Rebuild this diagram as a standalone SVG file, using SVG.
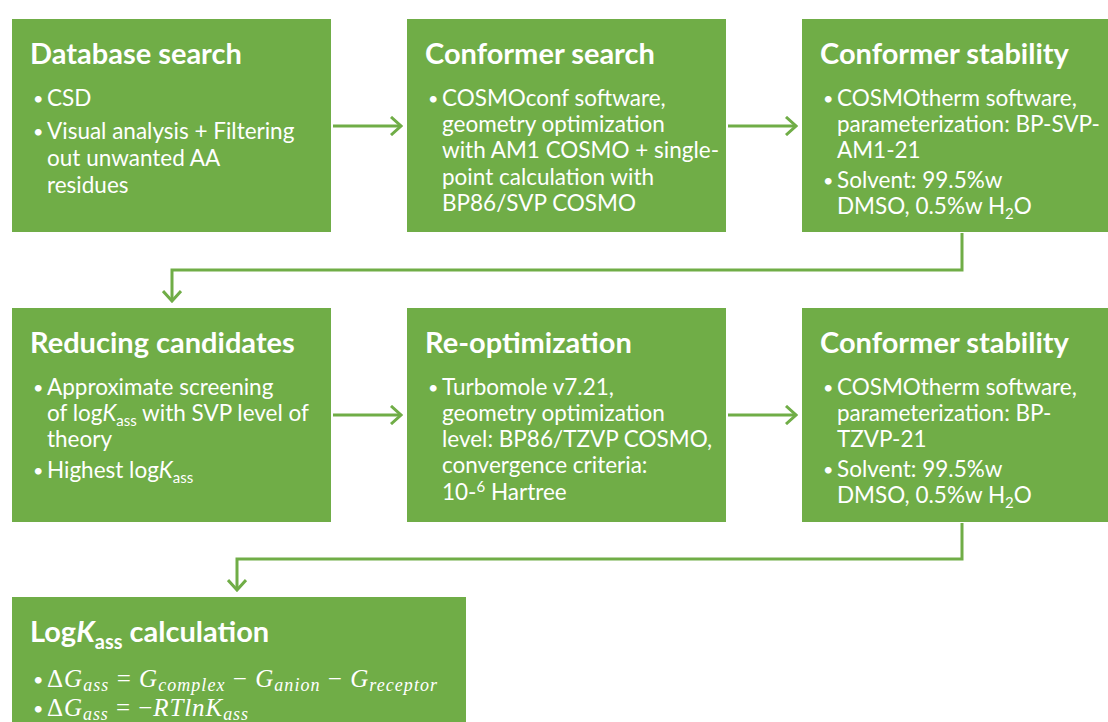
<svg xmlns="http://www.w3.org/2000/svg" width="1108" height="722" viewBox="0 0 1108 722">
<style>
.box{fill:#70AD47;}
.t{font-family:Lato,"Open Sans",sans-serif;font-weight:bold;font-size:29px;fill:#fff;}
.b{font-family:Lato,"Open Sans",sans-serif;font-size:22.5px;fill:#fff;}
.d{font-family:Lato,"Open Sans",sans-serif;font-size:18px;fill:#fff;}
.m{font-family:"Liberation Serif",serif;font-size:25px;fill:#fff;}
.c{fill:none;stroke:#70AD47;stroke-width:3;}
</style>
<defs>
<marker id="ah" viewBox="0 0 14 20" refX="12" refY="10" markerWidth="14" markerHeight="20" markerUnits="userSpaceOnUse" orient="auto">
<path d="M2,1 L12,10 L2,19" fill="none" stroke="#70AD47" stroke-width="3"/>
</marker>
</defs>
<rect width="1108" height="722" fill="#fff"/>
<g id="connectors">
<path class="c" d="M333,126 H401" marker-end="url(#ah)"/>
<path class="c" d="M728,126 H796" marker-end="url(#ah)"/>
<path class="c" d="M962,233 V270 H172 V301" marker-end="url(#ah)"/>
<path class="c" d="M333,415 H401" marker-end="url(#ah)"/>
<path class="c" d="M728,415 H796" marker-end="url(#ah)"/>
<path class="c" d="M962,523 V559 H237 V590" marker-end="url(#ah)"/>
</g>
<g id="n1">
<rect class="box" x="12" y="19" width="319" height="213"/>
<text class="t" x="30" y="64">Database search</text>
<text class="d"><tspan x="33" y="105">•</tspan><tspan x="33" y="138">•</tspan></text>
<text class="b"><tspan x="47" y="106">CSD</tspan><tspan x="47" y="139">Visual analysis + Filtering</tspan><tspan x="47" y="166">out unwanted AA</tspan><tspan x="47" y="193">residues</tspan></text>
</g>
<g id="n2">
<rect class="box" x="407" y="19" width="319" height="213"/>
<text class="t" x="425" y="64">Conformer search</text>
<text class="d"><tspan x="428" y="105">•</tspan></text>
<text class="b"><tspan x="442" y="106">COSMOconf software,</tspan><tspan x="442" y="132">geometry optimization</tspan><tspan x="442" y="158">with AM1 COSMO + single-</tspan><tspan x="442" y="185">point calculation with</tspan><tspan x="442" y="211">BP86/SVP COSMO</tspan></text>
</g>
<g id="n3">
<rect class="box" x="802" y="19" width="320" height="213"/>
<text class="t" x="820" y="64">Conformer stability</text>
<text class="d"><tspan x="823" y="105">•</tspan><tspan x="823" y="187">•</tspan></text>
<text class="b"><tspan x="837" y="106">COSMOtherm software,</tspan><tspan x="837" y="132">parameterization: BP-SVP-</tspan><tspan x="837" y="158">AM1-21</tspan><tspan x="837" y="188">Solvent: 99.5%w</tspan><tspan x="837" y="214">DMSO, 0.5%w H<tspan font-size="15" dy="5">2</tspan><tspan dy="-5">O</tspan></tspan></text>
</g>
<g id="n4">
<rect class="box" x="12" y="308" width="319" height="214"/>
<text class="t" x="30" y="353">Reducing candidates</text>
<text class="d"><tspan x="33" y="394">•</tspan><tspan x="33" y="477">•</tspan></text>
<text class="b"><tspan x="47" y="395">Approximate screening</tspan><tspan x="47" y="421">of log<tspan font-style="italic">K</tspan><tspan font-size="15" dy="5">ass</tspan><tspan dy="-5"> with SVP level of</tspan></tspan><tspan x="47" y="447">theory</tspan><tspan x="47" y="478">Highest log<tspan font-style="italic">K</tspan><tspan font-size="15" dy="5">ass</tspan></tspan></text>
</g>
<g id="n5">
<rect class="box" x="407" y="308" width="319" height="214"/>
<text class="t" x="425" y="353">Re-optimization</text>
<text class="d"><tspan x="428" y="394">•</tspan></text>
<text class="b"><tspan x="442" y="395">Turbomole v7.21,</tspan><tspan x="442" y="421">geometry optimization</tspan><tspan x="442" y="447">level: BP86/TZVP COSMO,</tspan><tspan x="442" y="473">convergence criteria:</tspan><tspan x="442" y="500">10-<tspan font-size="15" dy="-8">6</tspan><tspan dy="8"> Hartree</tspan></tspan></text>
</g>
<g id="n6">
<rect class="box" x="802" y="308" width="320" height="214"/>
<text class="t" x="820" y="353">Conformer stability</text>
<text class="d"><tspan x="823" y="394">•</tspan><tspan x="823" y="476">•</tspan></text>
<text class="b"><tspan x="837" y="395">COSMOtherm software,</tspan><tspan x="837" y="421">parameterization: BP-</tspan><tspan x="837" y="447">TZVP-21</tspan><tspan x="837" y="477">Solvent: 99.5%w</tspan><tspan x="837" y="503">DMSO, 0.5%w H<tspan font-size="15" dy="5">2</tspan><tspan dy="-5">O</tspan></tspan></text>
</g>
<g id="n7">
<rect class="box" x="12" y="597" width="454" height="140"/>
<text class="t" x="30" y="642">Log<tspan font-style="italic">K</tspan><tspan font-size="20" dy="7">ass</tspan><tspan dy="-7"> calculation</tspan></text>
<text class="d"><tspan x="33" y="686">•</tspan><tspan x="33" y="715">•</tspan></text>
<text class="m" x="47" y="687" textLength="390" lengthAdjust="spacing">Δ<tspan font-style="italic">G</tspan><tspan font-style="italic" font-size="18" dy="4">ass</tspan><tspan dy="-4"> = </tspan><tspan font-style="italic">G</tspan><tspan font-style="italic" font-size="18" dy="4">complex</tspan><tspan dy="-4"> − </tspan><tspan font-style="italic">G</tspan><tspan font-style="italic" font-size="18" dy="4">anion</tspan><tspan dy="-4"> − </tspan><tspan font-style="italic">G</tspan><tspan font-style="italic" font-size="18" dy="4">receptor</tspan></text>
<text class="m" x="47" y="716" textLength="201" lengthAdjust="spacing">Δ<tspan font-style="italic">G</tspan><tspan font-style="italic" font-size="18" dy="4">ass</tspan><tspan dy="-4"> = −</tspan><tspan font-style="italic">RTlnK</tspan><tspan font-style="italic" font-size="18" dy="4">ass</tspan></text>
</g>
</svg>
